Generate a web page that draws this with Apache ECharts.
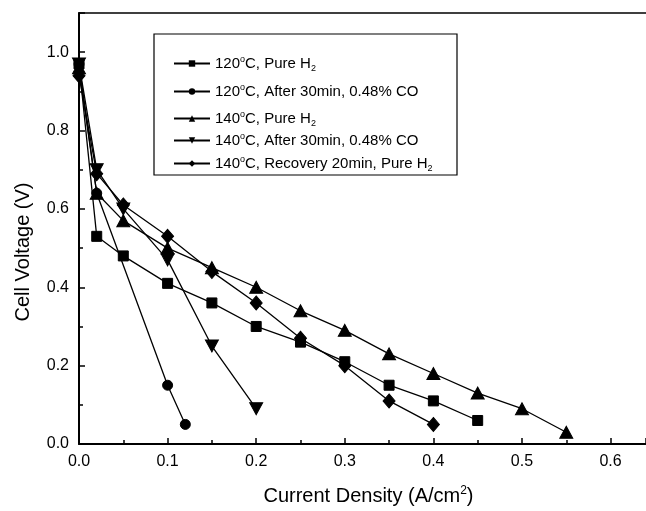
<!DOCTYPE html>
<html>
<head>
<meta charset="utf-8">
<script src="https://cdn.jsdelivr.net/npm/echarts@6/dist/echarts.min.js"></script>
<style>html,body{margin:0;padding:0;background:#fff}#c{width:646px;height:511px}</style>
</head>
<body>
<div id="c"></div>
<script>
// ---- data ----
var seriesNames = [
  '120oC, Pure H2',
  '120oC, After 30min, 0.48% CO',
  '140oC, Pure H2',
  '140oC, After 30min, 0.48% CO',
  '140oC, Recovery 20min, Pure H2'
];
var s120Pure = [[0,0.97],[0.02,0.53],[0.05,0.48],[0.1,0.41],[0.15,0.36],[0.2,0.30],[0.25,0.26],[0.3,0.21],[0.35,0.15],[0.4,0.11],[0.45,0.06]];
var s120CO = [[0,0.97],[0.02,0.64],[0.1,0.15],[0.12,0.05]];
var s140Pure = [[0,0.96],[0.02,0.64],[0.05,0.57],[0.1,0.50],[0.15,0.45],[0.2,0.40],[0.25,0.34],[0.3,0.29],[0.35,0.23],[0.4,0.18],[0.45,0.13],[0.5,0.09],[0.55,0.03]];
var s140CO = [[0,0.97],[0.02,0.70],[0.05,0.60],[0.1,0.47],[0.15,0.25],[0.2,0.09]];
var s140Rec = [[0,0.94],[0.02,0.69],[0.05,0.61],[0.1,0.53],[0.15,0.44],[0.2,0.36],[0.25,0.27],[0.3,0.20],[0.35,0.11],[0.4,0.05]];
var xTicks = [0,0.1,0.2,0.3,0.4,0.5,0.6];
var yTicks = [0,0.2,0.4,0.6,0.8,1.0];

var FONT = 'Liberation Sans, Arial, sans-serif';
var chart = echarts.init(document.getElementById('c'), null, {renderer:'canvas'});
var symbols = ['rect','circle','triangle','path://M0,0 L10,0 L5,10 Z','diamond'];
var sizes = [10,10,[13,12],[13,12],[12,14]];
var datas = [s120Pure, s120CO, s140Pure, s140CO, s140Rec];
var legendRowY = [63, 91, 118, 140, 163];

function legendFmt(name){
  return name.replace('oC','{sup|o}C').replace(/H2$/, 'H{sub|2}');
}
var legends = seriesNames.map(function(n,i){
  return {
    data:[n], left:173, top: legendRowY[i]-8, padding:0, itemWidth:36, itemHeight:8, itemGap:4,
    selectedMode:false,
    formatter: legendFmt,
    textStyle:{fontFamily:FONT, fontSize:15, color:'#000',
      rich:{
        sup:{fontFamily:FONT, fontSize:9, color:'#000', padding:[0,0,8,0]},
        sub:{fontFamily:FONT, fontSize:9, color:'#000', padding:[10,0,0,0]}
      }}
  };
});

var option = {
  animation:false,
  backgroundColor:'#fff',
  grid:{left:79, right:0, top:13, bottom:64},
  legend: legends,
  xAxis:[{
    type:'value', min:0, max:0.64, interval:0.1,
    axisLine:{show:true, lineStyle:{color:'#000', width:2}},
    axisTick:{show:true, inside:true, length:6, lineStyle:{color:'#000', width:1.5}},
    minorTick:{show:true, splitNumber:2, length:4, lineStyle:{color:'#000', width:1.5}},
    splitLine:{show:false},
    axisLabel:{showMaxLabel:false, margin:10, fontFamily:FONT, fontSize:16, color:'#000',
      formatter:function(v){ return xTicks.some(function(t){return Math.abs(t-v)<1e-9;}) ? v.toFixed(1) : ''; }},
    name:'Current Density (A/cm{sup|2})', nameLocation:'middle', nameGap:41,
    nameTextStyle:{fontFamily:FONT, fontSize:20, color:'#000', padding:[0,0,0,12],
      rich:{sup:{fontFamily:FONT, fontSize:12, color:'#000', padding:[0,0,10,0]}}}
  },{
    type:'value', position:'top', min:0, max:0.64,
    axisLine:{show:true, onZero:false, lineStyle:{color:'#000', width:1.5}},
    axisTick:{show:false}, axisLabel:{show:false}, splitLine:{show:false}
  }],
  yAxis:[{
    type:'value', min:0, max:1.1, interval:0.2,
    axisLine:{show:true, lineStyle:{color:'#000', width:2}},
    axisTick:{show:true, inside:true, length:6, lineStyle:{color:'#000', width:1.5}},
    minorTick:{show:true, splitNumber:2, length:4, lineStyle:{color:'#000', width:1.5}},
    splitLine:{show:false},
    axisLabel:{showMaxLabel:false, margin:10, fontFamily:FONT, fontSize:16, color:'#000',
      formatter:function(v){ return yTicks.some(function(t){return Math.abs(t-v)<1e-9;}) ? v.toFixed(1) : ''; }}
  }],
  graphic:[
    {type:'rect', shape:{x:154, y:34, width:303, height:141}, style:{fill:'none', stroke:'#000', lineWidth:1.2}, z:0},
    {type:'text', x:23, y:252, rotation:Math.PI/2,
      style:{text:'Cell Voltage (V)', fontFamily:FONT, fontSize:20, fill:'#000', textAlign:'center', textVerticalAlign:'middle'}}
  ],
  series: seriesNames.map(function(n,i){
    return {
      name:n, type:'line', data:datas[i], symbol:symbols[i], symbolSize:sizes[i],
      showAllSymbol:true, clip:false,
      lineStyle:{color:'#000', width:1.3}, itemStyle:{color:'#000', borderColor:'#000'},
      emphasis:{disabled:true}
    };
  })
};
chart.setOption(option);
</script>
</body>
</html>
